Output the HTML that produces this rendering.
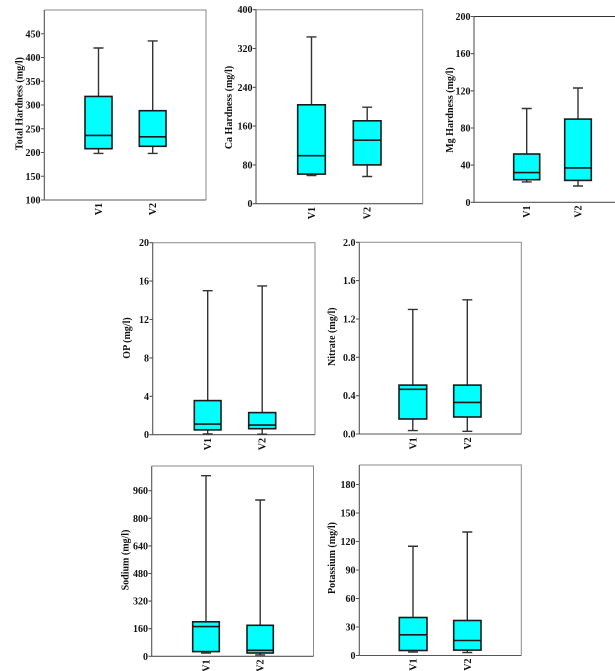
<!DOCTYPE html>
<html><head><meta charset="utf-8">
<style>
html,body{margin:0;padding:0;background:#fff;}
svg{display:block;}
text{font-family:"Liberation Serif",serif;font-weight:bold;font-size:10px;fill:#111;}
.tl{text-anchor:end;}
.fr{fill:none;stroke:#8a8a8a;stroke-width:1;}
.ax{stroke:#555;stroke-width:1.1;fill:none;}
.bx{fill:#00ffff;stroke:#1a1a1a;stroke-width:1.6;}
.md{stroke:#1a1a1a;stroke-width:1.6;}
.wk{stroke:#333;stroke-width:1.4;fill:none;}
</style></head><body>
<svg width="615" height="671" viewBox="0 0 615 671" xmlns="http://www.w3.org/2000/svg">
<rect width="615" height="671" fill="#fff"/>

<!-- Panel 1: Total Hardness -->
<g>
<polyline class="fr" points="44.3,10 206,10 206,200"/>
<path class="ax" d="M44.3,10 V200 H206 M41,200 H44.3 M41,176.25 H44.3 M41,152.5 H44.3 M41,128.75 H44.3 M41,105 H44.3 M41,81.25 H44.3 M41,57.5 H44.3 M41,33.75 H44.3"/>
<text class="tl" x="40.5" y="203.5">100</text>
<text class="tl" x="40.5" y="179.75">150</text>
<text class="tl" x="40.5" y="156">200</text>
<text class="tl" x="40.5" y="132.25">250</text>
<text class="tl" x="40.5" y="108.5">300</text>
<text class="tl" x="40.5" y="84.75">350</text>
<text class="tl" x="40.5" y="61">400</text>
<text class="tl" x="40.5" y="37.25">450</text>
<path class="wk" d="M98.5,96.45 V48 M93.5,48 H103.5 M98.5,148.7 V153.45 M93.5,153.45 H103.5"/>
<rect class="bx" x="85" y="96.45" width="27" height="52.25"/>
<line class="md" x1="85" y1="135.4" x2="112" y2="135.4"/>
<path class="wk" d="M152.7,110.7 V40.9 M147.7,40.9 H157.7 M152.7,146.3 V153.45 M147.7,153.45 H157.7"/>
<rect class="bx" x="139.3" y="110.7" width="26.7" height="35.6"/>
<line class="md" x1="139.3" y1="136.8" x2="166" y2="136.8"/>
<text transform="translate(102,203) rotate(-90)" text-anchor="end">V1</text>
<text transform="translate(156.2,203) rotate(-90)" text-anchor="end">V2</text>
<text transform="translate(22.5,103.5) rotate(-90)" text-anchor="middle">Total Hardness (mg/l)</text>
</g>

<!-- Panel 2: Ca Hardness -->
<g>
<polyline class="fr" points="256,9.7 422.7,9.7 422.7,203.7"/>
<path class="ax" d="M256,9.7 V203.7 H422.7 M252.7,203.7 H256 M252.7,164.9 H256 M252.7,126.1 H256 M252.7,87.3 H256 M252.7,48.5 H256 M252.7,9.7 H256"/>
<text class="tl" x="252.5" y="207.2">0</text>
<text class="tl" x="252.5" y="168.4">80</text>
<text class="tl" x="252.5" y="129.6">160</text>
<text class="tl" x="252.5" y="90.8">240</text>
<text class="tl" x="252.5" y="52">320</text>
<text class="tl" x="252.5" y="13.2">400</text>
<path class="wk" d="M311.5,104.8 V36.9 M306.5,36.9 H316.5 M311.5,174.1 V175.6 M306.5,175.6 H316.5"/>
<rect class="bx" x="297.7" y="104.8" width="27.6" height="69.3"/>
<line class="md" x1="297.7" y1="155.7" x2="325.3" y2="155.7"/>
<path class="wk" d="M367.2,120.8 V107.2 M362.2,107.2 H372.2 M367.2,164.9 V176.5 M362.2,176.5 H372.2"/>
<rect class="bx" x="353.3" y="120.8" width="27.7" height="44.1"/>
<line class="md" x1="353.3" y1="140.2" x2="381" y2="140.2"/>
<text transform="translate(315,207) rotate(-90)" text-anchor="end">V1</text>
<text transform="translate(370.7,207) rotate(-90)" text-anchor="end">V2</text>
<text transform="translate(231.8,107.5) rotate(-90)" text-anchor="middle">Ca Hardness (mg/l)</text>
</g>

<!-- Panel 3: Mg Hardness -->
<g>
<line x1="474" y1="16.5" x2="620" y2="16.5" stroke="#333" stroke-width="1.1"/>
<path class="ax" d="M474,16.5 V202.3 H620 M470.7,202.3 H474 M470.7,165.1 H474 M470.7,128 H474 M470.7,90.8 H474 M470.7,53.7 H474 M470.7,16.5 H474"/>
<text class="tl" x="470.5" y="205.8">0</text>
<text class="tl" x="470.5" y="168.6">40</text>
<text class="tl" x="470.5" y="131.5">80</text>
<text class="tl" x="470.5" y="94.3">120</text>
<text class="tl" x="470.5" y="57.2">160</text>
<text class="tl" x="470.5" y="20">200</text>
<path class="wk" d="M526.7,154 V108.5 M521.7,108.5 H531.7 M526.7,179.7 V181.9 M521.7,181.9 H531.7"/>
<rect class="bx" x="513.7" y="154" width="26" height="25.7"/>
<line class="md" x1="513.7" y1="172.6" x2="539.7" y2="172.6"/>
<path class="wk" d="M578,119.1 V88 M573,88 H583 M578,180.4 V186 M573,186 H583"/>
<rect class="bx" x="564.7" y="119.1" width="26.6" height="61.3"/>
<line class="md" x1="564.7" y1="167.9" x2="591.3" y2="167.9"/>
<text transform="translate(530.2,205.5) rotate(-90)" text-anchor="end">V1</text>
<text transform="translate(581.5,205.5) rotate(-90)" text-anchor="end">V2</text>
<text transform="translate(452.8,110) rotate(-90)" text-anchor="middle">Mg Hardness (mg/l)</text>
</g>

<!-- Panel 4: OP -->
<g>
<polyline class="fr" points="152.7,242.7 315,242.7 315,434.7"/>
<path class="ax" d="M152.7,242.7 V434.7 H315 M149.4,434.7 H152.7 M149.4,396.3 H152.7 M149.4,357.9 H152.7 M149.4,319.5 H152.7 M149.4,281.1 H152.7 M149.4,242.7 H152.7"/>
<text class="tl" x="149" y="438.2">0</text>
<text class="tl" x="149" y="399.8">4</text>
<text class="tl" x="149" y="361.4">8</text>
<text class="tl" x="149" y="323">12</text>
<text class="tl" x="149" y="284.6">16</text>
<text class="tl" x="149" y="246.2">20</text>
<path class="wk" d="M207.7,400.6 V290.7 M202.7,290.7 H212.7 M207.7,429.9 V434 M202.7,434 H212.7"/>
<rect class="bx" x="194.3" y="400.6" width="26.7" height="29.3"/>
<line class="md" x1="194.3" y1="424.1" x2="221" y2="424.1"/>
<path class="wk" d="M262.2,412.6 V285.9 M257.2,285.9 H267.2 M262.2,428.7 V434.2 M257.2,434.2 H267.2"/>
<rect class="bx" x="248.7" y="412.6" width="27" height="16.1"/>
<line class="md" x1="248.7" y1="425.1" x2="275.7" y2="425.1"/>
<text transform="translate(211.2,438) rotate(-90)" text-anchor="end">V1</text>
<text transform="translate(265.7,438) rotate(-90)" text-anchor="end">V2</text>
<text transform="translate(130.2,338) rotate(-90)" text-anchor="middle">OP (mg/l)</text>
</g>

<!-- Panel 5: Nitrate -->
<g>
<polyline class="fr" points="359.3,242.3 521.3,242.3 521.3,434"/>
<path class="ax" d="M359.3,242.3 V434 H521.3 M356,434 H359.3 M356,395.7 H359.3 M356,357.3 H359.3 M356,319 H359.3 M356,280.6 H359.3 M356,242.3 H359.3"/>
<text class="tl" x="355.5" y="437.5">0.0</text>
<text class="tl" x="355.5" y="399.2">0.4</text>
<text class="tl" x="355.5" y="360.8">0.8</text>
<text class="tl" x="355.5" y="322.5">1.2</text>
<text class="tl" x="355.5" y="284.1">1.6</text>
<text class="tl" x="355.5" y="245.8">2.0</text>
<path class="wk" d="M412.8,385.1 V309.4 M407.8,309.4 H417.8 M412.8,419 V430.6 M407.8,430.6 H417.8"/>
<rect class="bx" x="399" y="385.1" width="27.7" height="33.9"/>
<line class="md" x1="399" y1="389.3" x2="426.7" y2="389.3"/>
<path class="wk" d="M467.3,385.1 V299.8 M462.3,299.8 H472.3 M467.3,417 V431.3 M462.3,431.3 H472.3"/>
<rect class="bx" x="453.7" y="385.1" width="27.3" height="31.9"/>
<line class="md" x1="453.7" y1="402.4" x2="481" y2="402.4"/>
<text transform="translate(416.3,437.3) rotate(-90)" text-anchor="end">V1</text>
<text transform="translate(470.8,437.3) rotate(-90)" text-anchor="end">V2</text>
<text transform="translate(335.2,336.7) rotate(-90)" text-anchor="middle">Nitrate (mg/l)</text>
</g>

<!-- Panel 6: Sodium -->
<g>
<polyline class="fr" points="151.7,466 313.5,466 313.5,656.3"/>
<path class="ax" d="M151.7,466 V656.3 H313.5 M148.4,656.3 H151.7 M148.4,628.7 H151.7 M148.4,601.1 H151.7 M148.4,573.5 H151.7 M148.4,545.9 H151.7 M148.4,518.3 H151.7 M148.4,490.7 H151.7"/>
<text class="tl" x="148" y="659.8">0</text>
<text class="tl" x="148" y="632.2">160</text>
<text class="tl" x="148" y="604.6">320</text>
<text class="tl" x="148" y="577">480</text>
<text class="tl" x="148" y="549.4">640</text>
<text class="tl" x="148" y="521.8">800</text>
<text class="tl" x="148" y="494.2">960</text>
<path class="wk" d="M206,621.8 V475.7 M201,475.7 H211 M206,651.6 V653 M201,653 H211"/>
<rect class="bx" x="192.7" y="621.8" width="26.6" height="29.8"/>
<line class="md" x1="192.7" y1="626.6" x2="219.3" y2="626.6"/>
<path class="wk" d="M260.2,625.3 V500 M255.2,500 H265.2 M260.2,653 V654.9 M255.2,654.9 H265.2"/>
<rect class="bx" x="247" y="625.3" width="26.3" height="27.7"/>
<line class="md" x1="247" y1="650.3" x2="273.3" y2="650.3"/>
<text transform="translate(209.5,659.5) rotate(-90)" text-anchor="end">V1</text>
<text transform="translate(263.7,659.5) rotate(-90)" text-anchor="end">V2</text>
<text transform="translate(128.5,560) rotate(-90)" text-anchor="middle">Sodium (mg/l)</text>
</g>

<!-- Panel 7: Potassium -->
<g>
<polyline class="fr" points="359.3,465 521.3,465 521.3,655.5"/>
<path class="ax" d="M359.3,465 V655.5 H521.3 M356,655.5 H359.3 M356,627 H359.3 M356,598.5 H359.3 M356,570 H359.3 M356,541.5 H359.3 M356,513 H359.3 M356,484.5 H359.3"/>
<text class="tl" x="355.5" y="659">0</text>
<text class="tl" x="355.5" y="630.5">30</text>
<text class="tl" x="355.5" y="602">60</text>
<text class="tl" x="355.5" y="573.5">90</text>
<text class="tl" x="355.5" y="545">120</text>
<text class="tl" x="355.5" y="516.5">150</text>
<text class="tl" x="355.5" y="488">180</text>
<path class="wk" d="M413,617.5 V546.25 M408,546.25 H418 M413,650.5 V652.1 M408,652.1 H418"/>
<rect class="bx" x="399.3" y="617.5" width="27.7" height="33"/>
<line class="md" x1="399.3" y1="634.8" x2="427" y2="634.8"/>
<path class="wk" d="M467.3,620.5 V532 M462.3,532 H472.3 M467.3,650.1 V652.5 M462.3,652.5 H472.3"/>
<rect class="bx" x="453.7" y="620.5" width="27.3" height="29.6"/>
<line class="md" x1="453.7" y1="640.5" x2="481" y2="640.5"/>
<text transform="translate(416.5,658.5) rotate(-90)" text-anchor="end">V1</text>
<text transform="translate(470.8,658.5) rotate(-90)" text-anchor="end">V2</text>
<text transform="translate(335.2,558) rotate(-90)" text-anchor="middle">Potassium (mg/l)</text>
</g>
</svg>
</body></html>
